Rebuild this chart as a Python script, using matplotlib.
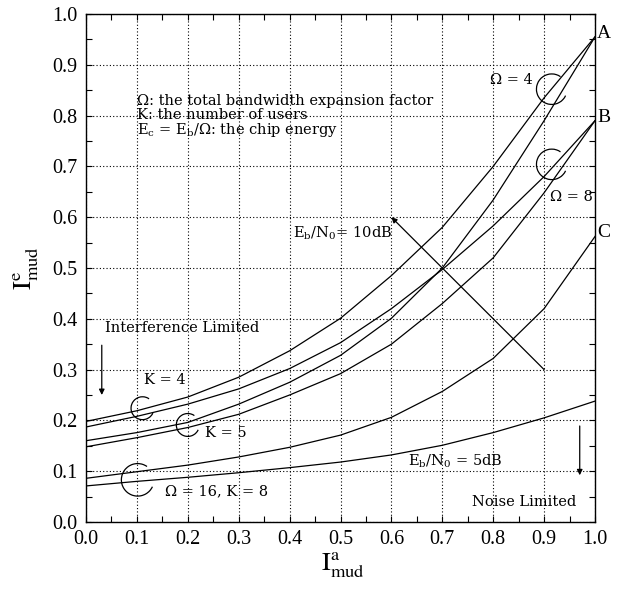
import matplotlib
matplotlib.use("Agg")
import matplotlib.pyplot as plt
from matplotlib.patches import Arc
from matplotlib.ticker import MultipleLocator

plt.rcParams['font.family'] = ['Liberation Serif', 'DejaVu Serif']
plt.rcParams['mathtext.fontset'] = 'stix'

# a priori mutual information at the detector input
i_a = [0.0, 0.1, 0.2, 0.3, 0.4, 0.5, 0.6, 0.7, 0.8, 0.9, 1.0]

# extrinsic mutual information at the detector output
omega4_k4 = [0.198, 0.219, 0.246, 0.285, 0.337, 0.401, 0.485, 0.580, 0.700, 0.835, 0.955]
omega8_k4 = [0.187, 0.208, 0.232, 0.262, 0.302, 0.353, 0.420, 0.497, 0.583, 0.680, 0.790]
omega4_k5 = [0.160, 0.176, 0.196, 0.232, 0.275, 0.328, 0.401, 0.500, 0.634, 0.790, 0.955]
omega8_k5 = [0.148, 0.166, 0.186, 0.212, 0.250, 0.292, 0.350, 0.430, 0.520, 0.648, 0.790]
omega16_k8_10db = [0.086, 0.099, 0.112, 0.128, 0.147, 0.171, 0.206, 0.257, 0.322, 0.420, 0.562]
omega16_k8_5db = [0.071, 0.080, 0.088, 0.097, 0.107, 0.118, 0.132, 0.151, 0.176, 0.205, 0.238]

tick_vals = [0.0, 0.1, 0.2, 0.3, 0.4, 0.5, 0.6, 0.7, 0.8, 0.9, 1.0]
tick_labels = ['0.0', '0.1', '0.2', '0.3', '0.4', '0.5', '0.6', '0.7', '0.8', '0.9', '1.0']

fig = plt.figure(figsize=(6.2, 5.9), dpi=100)
ax = fig.add_axes([86 / 620, 1 - 522 / 590, 509 / 620, 508 / 590])

for series in (omega4_k4, omega8_k4, omega4_k5, omega8_k5, omega16_k8_10db, omega16_k8_5db):
    ax.plot(i_a, series, color='black', lw=0.9)

ax.set_xlim(0, 1)
ax.set_ylim(0, 1)
ax.set_xticks(tick_vals)
ax.set_xticklabels(tick_labels)
ax.set_yticks(tick_vals)
ax.set_yticklabels(tick_labels)
ax.xaxis.set_minor_locator(MultipleLocator(0.05))
ax.yaxis.set_minor_locator(MultipleLocator(0.05))
ax.tick_params(which='both', direction='in', top=True, right=True, length=4, width=0.8)
ax.tick_params(which='major', labelsize=14.5, pad=6)
ax.grid(True, which='major', color='black', linestyle=(0, (1, 2)), lw=0.8)
for sp in ax.spines.values():
    sp.set_linewidth(1.0)

ax.set_xlabel(r'$\mathrm{I}^{\mathrm{a}}_{\mathrm{mud}}$', fontsize=19)
ax.set_ylabel(r'$\mathrm{I}^{\mathrm{e}}_{\mathrm{mud}}$', fontsize=19)
ax.xaxis.set_label_coords(0.505, -0.056)
ax.yaxis.set_label_coords(-0.088, 0.5)

# annotation text: a wide serif face, with matching math glyphs for subscripts
note = dict(fontsize=10.5, family='DejaVu Serif', math_fontfamily='dejavuserif')

ax.text(0.1, 0.828, 'Ω: the total bandwidth expansion factor', va='center', **note)
ax.text(0.1, 0.801, 'K: the number of users', va='center', **note)
ax.text(0.1, 0.771, r'E$_\mathregular{c}$ = E$_\mathregular{b}$/Ω: the chip energy', va='center', **note)

ax.text(1.004, 0.962, 'A', fontsize=14, va='center', ha='left', clip_on=False)
ax.text(1.004, 0.797, 'B', fontsize=14, va='center', ha='left', clip_on=False)
ax.text(1.004, 0.570, 'C', fontsize=14, va='center', ha='left', clip_on=False)

ax.text(0.836, 0.870, 'Ω = 4', ha='center', va='center', **note)
ax.text(0.953, 0.640, 'Ω = 8', ha='center', va='center', **note)
ax.text(0.155, 0.280, 'K = 4', ha='center', va='center', **note)
ax.text(0.275, 0.175, 'K = 5', ha='center', va='center', **note)
ax.text(0.257, 0.060, 'Ω = 16, K = 8', ha='center', va='center', **note)
ax.text(0.505, 0.568, r'E$_\mathregular{b}$/N$_\mathregular{0}$= 10dB', ha='center', va='center', **note)
ax.text(0.726, 0.119, r'E$_\mathregular{b}$/N$_\mathregular{0}$ = 5dB', ha='center', va='center', **note)
ax.text(0.188, 0.381, 'Interference Limited', ha='center', va='center', **note)
ax.text(0.860, 0.040, 'Noise Limited', ha='center', va='center', **note)

# open circles grouping pairs of curves
for (cx, cy, d) in [(0.915, 0.852, 0.060), (0.915, 0.704, 0.060),
                    (0.111, 0.224, 0.045), (0.200, 0.191, 0.045),
                    (0.1015, 0.083, 0.064)]:
    ax.add_patch(Arc((cx, cy), d, d, theta1=55, theta2=335, color='black', lw=0.9))

arrow = dict(arrowstyle='-|>', color='black', lw=0.9, mutation_scale=8, shrinkA=0, shrinkB=0)
ax.annotate('', xy=(0.6, 0.6), xytext=(0.9, 0.3), arrowprops=arrow)
ax.annotate('', xy=(0.031, 0.25), xytext=(0.031, 0.348), arrowprops=arrow)
ax.annotate('', xy=(0.970, 0.092), xytext=(0.970, 0.189), arrowprops=arrow)

fig.savefig('out.png', dpi=100)
